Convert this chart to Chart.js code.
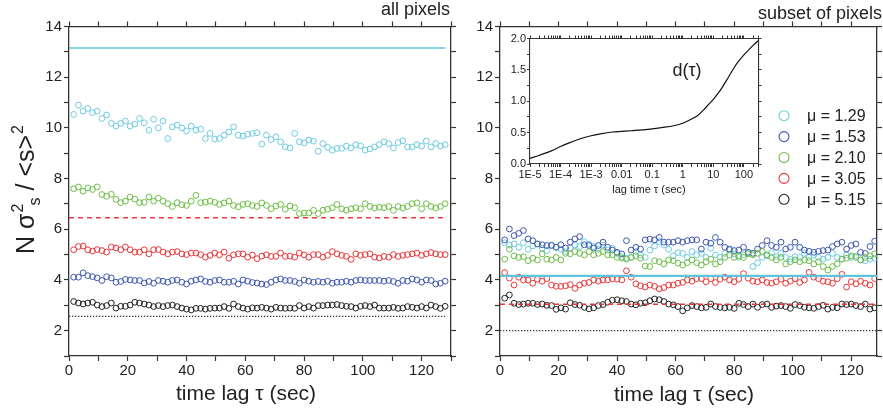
<!DOCTYPE html>
<html>
<head>
<meta charset="utf-8">
<script src="https://cdn.jsdelivr.net/npm/chart.js@4.4.0/dist/chart.umd.min.js"></script>
<style>
  html, body { margin: 0; padding: 0; background: #fff; }
  #wrap { position: relative; width: 883px; height: 412px; overflow: hidden; background: #fff; }
  canvas { position: absolute; }
</style>
</head>
<body>
<div id="wrap">
  <canvas id="leftChart" width="460" height="412" style="left:0;top:0"></canvas>
  <canvas id="rightChart" width="423" height="412" style="left:460px;top:0"></canvas>
  <canvas id="insetChart" width="275" height="180" style="left:490px;top:30px"></canvas>
</div>
<script>
// time lag tau (sec) of every measured point
const lags = [1.6, 3.2, 4.8, 6.4, 8, 9.6, 11.2, 12.8, 14.4, 16,
  17.6, 19.2, 20.8, 22.4, 24, 25.6, 27.2, 28.8, 30.4, 32,
  33.6, 35.2, 36.8, 38.4, 40, 41.6, 43.2, 44.8, 46.4, 48,
  49.6, 51.2, 52.8, 54.4, 56, 57.6, 59.2, 60.8, 62.4, 64,
  65.6, 67.2, 68.8, 70.4, 72, 73.6, 75.2, 76.8, 78.4, 80,
  81.6, 83.2, 84.8, 86.4, 88, 89.6, 91.2, 92.8, 94.4, 96,
  97.6, 99.2, 100.8, 102.4, 104, 105.6, 107.2, 108.8, 110.4, 112,
  113.6, 115.2, 116.8, 118.4, 120, 121.6, 123.2, 124.8, 126.4, 128];

const muLabels = ['\u03bc = 1.29', '\u03bc = 1.53', '\u03bc = 2.10', '\u03bc = 3.05', '\u03bc = 5.15'];
const muColors = ['#6ccbe0', '#3e56b0', '#6cbd45', '#e8383a', '#222222'];

// left panel: all pixels
const allMu129 = [10.53, 10.90, 10.66, 10.77, 10.60, 10.66, 10.37, 10.51, 10.18, 10.07,
  10.18, 10.27, 10.07, 10.15, 10.37, 10.20, 9.91, 10.34, 10.00, 10.27,
  9.58, 10.04, 10.11, 10.00, 9.88, 10.07, 9.91, 9.95, 9.58, 9.78,
  9.56, 9.58, 9.71, 9.84, 10.04, 9.71, 9.68, 9.75, 9.78, 9.81,
  9.36, 9.71, 9.54, 9.65, 9.45, 9.25, 9.21, 9.78, 9.45, 9.41,
  9.52, 9.48, 9.08, 9.38, 9.23, 9.12, 9.19, 9.19, 9.28, 9.21,
  9.34, 9.29, 9.12, 9.17, 9.25, 9.34, 9.45, 9.38, 9.21, 9.42,
  9.49, 9.25, 9.25, 9.34, 9.28, 9.48, 9.25, 9.38, 9.28, 9.34];
const allMu153 = [4.11, 4.11, 4.28, 4.17, 4.13, 4.08, 3.98, 4.13, 4.08, 3.91,
  3.94, 4.02, 4.00, 3.98, 3.98, 3.88, 3.94, 3.87, 3.98, 3.95,
  3.91, 3.98, 4.00, 3.91, 3.84, 3.95, 4.00, 4.04, 3.94, 3.91,
  3.98, 4.00, 3.91, 3.91, 3.95, 3.84, 4.00, 3.95, 3.90, 3.88,
  3.84, 3.82, 3.91, 4.00, 4.04, 3.98, 3.98, 3.94, 3.87, 4.00,
  3.95, 3.91, 3.94, 3.91, 3.95, 3.87, 3.91, 3.91, 3.95, 3.91,
  3.98, 4.00, 3.98, 3.98, 3.98, 3.98, 3.95, 3.98, 3.94, 3.87,
  3.98, 3.95, 4.04, 4.00, 3.91, 4.00, 3.98, 3.84, 3.87, 3.95];
const allMu210 = [7.60, 7.67, 7.50, 7.63, 7.57, 7.67, 7.37, 7.30, 7.38, 7.18,
  7.05, 7.11, 7.27, 7.19, 7.05, 7.06, 7.27, 7.11, 7.23, 7.11,
  7.01, 6.90, 7.05, 6.97, 6.94, 7.11, 7.34, 7.05, 7.07, 7.11,
  7.06, 6.98, 7.04, 7.11, 6.94, 6.89, 6.98, 7.01, 6.94, 6.90,
  7.04, 6.94, 6.81, 6.92, 6.98, 6.79, 6.92, 6.85, 6.62, 6.64,
  6.64, 6.75, 6.62, 6.75, 6.79, 6.85, 6.98, 6.81, 6.75, 6.81,
  6.85, 6.81, 7.01, 6.90, 6.84, 6.87, 6.85, 6.90, 6.75, 6.90,
  6.84, 6.90, 7.01, 7.04, 6.81, 7.01, 6.90, 6.84, 6.90, 7.01];
const allMu305 = [5.19, 5.32, 5.34, 5.19, 5.14, 5.20, 5.16, 5.10, 5.30, 5.26,
  5.19, 5.30, 5.19, 5.10, 5.10, 5.19, 5.03, 5.19, 5.20, 5.10,
  5.03, 5.10, 5.12, 5.03, 5.00, 5.06, 5.06, 5.00, 4.90, 4.97,
  5.06, 4.99, 5.10, 4.86, 4.99, 5.03, 5.03, 4.90, 4.98, 4.84,
  4.94, 4.99, 4.93, 4.93, 5.06, 4.93, 4.94, 4.90, 5.06, 4.99,
  4.90, 5.00, 5.00, 4.90, 4.97, 5.12, 5.03, 4.97, 4.93, 4.81,
  5.03, 4.97, 5.00, 5.03, 4.90, 4.87, 4.93, 4.90, 5.00, 4.93,
  4.97, 5.00, 5.03, 5.06, 4.97, 5.03, 5.08, 5.03, 5.00, 5.00];
const allMu515 = [3.15, 3.09, 3.05, 3.09, 3.12, 3.01, 2.95, 2.99, 3.09, 2.89,
  2.96, 2.96, 3.01, 3.12, 3.09, 3.05, 3.01, 2.95, 2.99, 2.95,
  2.99, 3.01, 2.95, 2.89, 2.85, 2.82, 2.88, 2.88, 2.85, 2.88,
  2.89, 2.89, 2.95, 2.88, 3.05, 2.95, 2.89, 2.85, 2.90, 2.89,
  2.92, 2.89, 2.85, 2.92, 2.89, 2.88, 2.89, 2.88, 2.99, 2.89,
  2.95, 2.89, 2.99, 2.99, 3.01, 3.01, 3.03, 2.99, 2.96, 2.95,
  2.89, 2.96, 2.99, 2.95, 3.01, 2.89, 2.89, 2.89, 2.92, 2.88,
  2.89, 2.95, 2.92, 2.89, 2.95, 2.89, 3.01, 2.95, 2.88, 2.96];
const allLevels = [13.15, 6.45, 2.56];   // solid cyan, dashed red, dotted black
const allLevelSpan = [0, 128];

// right panel: subset of pixels
const subMu129 = [5.47, 5.38, 5.42, 5.29, 5.47, 5.21, 5.34, 5.42, 5.25, 5.16,
  5.38, 5.29, 5.21, 5.12, 5.25, 5.38, 5.32, 5.51, 5.42, 5.32,
  5.21, 5.38, 5.18, 5.25, 5.05, 4.92, 4.86, 4.89, 5.12, 4.99,
  4.89, 5.18, 5.34, 5.51, 5.38, 5.21, 4.95, 5.08, 5.05, 4.89,
  5.12, 4.99, 5.05, 4.89, 5.25, 4.99, 4.89, 5.05, 5.18, 5.03,
  4.89, 4.99, 5.08, 4.53, 4.68, 4.89, 4.95, 5.08, 4.92, 5.05,
  4.89, 4.82, 4.92, 4.89, 5.05, 4.89, 4.99, 4.89, 4.82, 4.89,
  5.05, 4.89, 4.82, 4.99, 4.89, 4.95, 4.79, 4.76, 4.82, 4.86];
const subMu153 = [5.58, 6.01, 5.75, 5.84, 5.95, 5.62, 5.55, 5.42, 5.39, 5.36,
  5.36, 5.29, 5.39, 5.26, 5.49, 5.62, 5.71, 5.39, 5.36, 5.26,
  5.36, 5.49, 5.29, 5.18, 5.09, 5.03, 5.55, 5.18, 5.29, 5.22,
  5.58, 5.61, 5.58, 5.68, 5.49, 5.49, 5.49, 5.55, 5.49, 5.55,
  5.58, 5.58, 5.22, 5.49, 5.45, 5.68, 5.49, 5.29, 5.22, 5.16,
  5.18, 5.29, 5.09, 5.05, 5.22, 5.36, 5.55, 5.36, 5.29, 5.49,
  5.22, 5.29, 5.49, 5.29, 5.18, 5.13, 5.09, 5.13, 5.16, 5.18,
  5.32, 5.42, 5.49, 5.22, 5.36, 5.42, 5.09, 5.05, 5.32, 5.53];
const subMu210 = [4.82, 5.21, 4.95, 4.89, 4.92, 4.76, 4.86, 4.79, 5.03, 4.82,
  4.79, 4.89, 4.79, 5.05, 5.03, 5.12, 5.05, 4.99, 5.12, 4.99,
  5.05, 5.12, 4.99, 4.99, 4.89, 4.86, 4.82, 4.89, 4.95, 4.86,
  4.55, 4.53, 4.76, 4.72, 4.63, 4.79, 4.76, 4.66, 4.59, 4.68,
  4.79, 4.68, 4.59, 4.72, 4.82, 4.63, 4.72, 4.89, 4.99, 4.89,
  4.95, 4.89, 5.03, 4.99, 5.05, 5.12, 4.99, 4.89, 4.79, 4.89,
  4.63, 4.72, 4.79, 4.72, 4.79, 4.76, 4.63, 4.72, 4.53, 4.39,
  4.53, 4.63, 4.82, 4.86, 4.95, 4.89, 4.79, 4.89, 4.95, 5.03];
const subMu305 = [4.29, 4.07, 3.80, 4.11, 4.00, 4.00, 3.87, 4.03, 3.95, 4.05,
  3.80, 3.75, 3.75, 3.77, 3.82, 3.67, 3.80, 3.87, 3.90, 4.00,
  3.95, 4.00, 4.00, 4.05, 4.03, 4.00, 4.36, 4.11, 3.85, 3.77,
  3.72, 3.80, 3.75, 3.65, 3.70, 3.80, 3.80, 3.87, 3.90, 4.00,
  3.95, 4.05, 4.05, 3.93, 4.05, 3.90, 4.03, 4.11, 4.00, 3.93,
  4.03, 4.25, 4.07, 3.95, 3.93, 4.00, 3.90, 3.87, 3.93, 4.03,
  3.87, 3.95, 4.05, 3.90, 4.00, 4.30, 4.11, 4.05, 3.95, 3.93,
  3.87, 4.05, 4.22, 3.72, 3.93, 3.85, 3.95, 3.87, 3.80, 4.05];
const subMu515 = [3.28, 3.41, 3.08, 3.03, 3.05, 3.08, 3.08, 3.03, 3.05, 3.00,
  2.99, 2.84, 2.90, 2.85, 3.10, 3.03, 3.00, 2.92, 2.86, 2.90,
  2.99, 3.03, 3.12, 3.20, 3.22, 3.18, 3.15, 3.05, 3.02, 3.08,
  3.10, 3.18, 3.25, 3.22, 3.15, 3.05, 3.02, 2.95, 2.78, 2.90,
  2.99, 2.95, 2.90, 2.92, 3.05, 2.95, 2.92, 2.90, 2.92, 2.88,
  3.08, 3.03, 2.95, 3.05, 2.92, 3.03, 3.05, 2.92, 2.97, 2.99,
  2.95, 2.88, 3.03, 2.99, 2.92, 2.90, 2.88, 2.95, 3.00, 2.85,
  2.92, 2.90, 3.05, 3.03, 3.05, 2.99, 2.95, 3.05, 2.85, 2.90];
const subLevels = [4.16, 3.04, 2.0];
const subLevelSpan = [0, 128.8];

// inset: d(tau) vs lag time
const insetTau = [1e-5, 2e-5, 5e-5, 1e-4, 2e-4, 5e-4, 1e-3, 2e-3, 5e-3, 0.01,
  0.02, 0.05, 0.1, 0.2, 0.5, 1, 2, 3, 5, 7,
  10, 15, 20, 30, 50, 70, 100, 150, 200, 300];
const insetD = [0.09, 0.14, 0.21, 0.28, 0.34, 0.41, 0.45, 0.48, 0.51, 0.52,
  0.53, 0.545, 0.56, 0.58, 0.61, 0.65, 0.72, 0.77, 0.87, 0.95,
  1.03, 1.14, 1.23, 1.37, 1.55, 1.65, 1.74, 1.83, 1.89, 1.97];
const insetDecadeLabels = ['1E-5', '1E-4', '1E-3', '0.01', '0.1', '1', '10', '100'];

const FONT = '"Liberation Sans", Arial, Helvetica, sans-serif';
const INK = '#222';
const AXIS = '#333';

function scatterSet(label, values, color) {
  return {
    label: label,
    data: lags.map((x, i) => ({ x: x, y: values[i] })),
    showLine: false,
    pointStyle: 'circle',
    pointRadius: 2.9,
    pointBorderWidth: 1,
    pointBorderColor: color,
    pointBackgroundColor: 'rgba(0,0,0,0)',
    borderColor: color,
    backgroundColor: 'rgba(0,0,0,0)'
  };
}

const levelStyles = [
  { color: '#5ec4dc', width: 1.6, dash: [] },
  { color: '#e8383a', width: 1.5, dash: [5, 4] },
  { color: '#333', width: 1.3, dash: [1.3, 1.7] }
];

function levelSet(level, span, style, width) {
  return {
    label: '',
    data: span.map(x => ({ x: x, y: level })),
    showLine: true,
    borderColor: style.color,
    borderWidth: width || style.width,
    borderDash: style.dash,
    pointRadius: 0,
    fill: false
  };
}

function mainScales(xMax, yWidth) {
  const tickFont = { family: FONT, size: 15 };
  const grid = { drawOnChartArea: false, tickLength: 5, color: AXIS, tickWidth: 1.2 };
  const border = { color: AXIS, width: 1.3 };
  return {
    x: {
      type: 'linear', position: 'bottom', min: 0, max: xMax,
      ticks: { stepSize: 10, includeBounds: false, autoSkip: false, maxRotation: 0, padding: 1,
        color: INK, font: tickFont, callback: v => (v % 20 === 0 ? String(v) : '') },
      grid: grid, border: border,
      afterFit: s => { s.height = 56; }
    },
    x2: {
      type: 'linear', position: 'top', min: 0, max: xMax,
      ticks: { stepSize: 10, includeBounds: false, display: false },
      grid: grid, border: border,
      afterFit: s => { s.height = 0; }
    },
    y: {
      type: 'linear', position: 'left', min: 1, max: 14,
      ticks: { stepSize: 1, autoSkip: false, padding: 2, color: INK, font: tickFont,
        callback: v => (v % 2 === 0 ? String(v) : '') },
      grid: grid, border: border,
      afterFit: s => { s.width = yWidth; }
    },
    y2: {
      type: 'linear', position: 'right', min: 1, max: 14,
      ticks: { stepSize: 1, display: false },
      grid: grid, border: border,
      afterFit: s => { s.width = 0; }
    }
  };
}

function putText(ctx, str, x, y, size, align) {
  ctx.save();
  ctx.font = size + 'px ' + FONT;
  ctx.fillStyle = INK;
  ctx.textAlign = align || 'left';
  ctx.textBaseline = 'alphabetic';
  ctx.fillText(str, x, y);
  ctx.restore();
}

// N sigma^2_s / <s>^2, written bottom to top
function drawYTitle(ctx) {
  ctx.save();
  ctx.translate(34, 254);
  ctx.rotate(-Math.PI / 2);
  ctx.fillStyle = INK;
  ctx.textBaseline = 'alphabetic';
  const big = '25px ' + FONT;
  const small = '16px ' + FONT;
  let x = 0;
  ctx.font = big;
  ctx.fillText('N \u03c3', x, 0);
  x += ctx.measureText('N \u03c3').width + 1;
  ctx.font = small;
  ctx.fillText('2', x, -11);
  const w2 = ctx.measureText('2').width;
  ctx.fillText('s', x + w2 * 0.8, 6);
  x += w2 * 0.8 + ctx.measureText('s').width;
  ctx.font = big;
  ctx.fillText(' / <s>', x, 0);
  x += ctx.measureText(' / <s>').width;
  ctx.font = small;
  ctx.fillText('2', x + 1, -11);
  ctx.restore();
}

const baseOptions = {
  responsive: false,
  maintainAspectRatio: false,
  animation: false,
  devicePixelRatio: 1,
  events: [],
  plugins: { legend: { display: false }, tooltip: { enabled: false } }
};

// left panel
new Chart(document.getElementById('leftChart'), {
  type: 'scatter',
  data: {
    datasets: [
      levelSet(allLevels[0], allLevelSpan, levelStyles[0]),
      levelSet(allLevels[1], allLevelSpan, levelStyles[1]),
      levelSet(allLevels[2], allLevelSpan, levelStyles[2]),
      scatterSet(muLabels[4], allMu515, muColors[4]),
      scatterSet(muLabels[3], allMu305, muColors[3]),
      scatterSet(muLabels[2], allMu210, muColors[2]),
      scatterSet(muLabels[1], allMu153, muColors[1]),
      scatterSet(muLabels[0], allMu129, muColors[0])
    ]
  },
  options: Object.assign({}, baseOptions, {
    layout: { padding: { top: 26.5, right: 9, bottom: 0, left: 0 } },
    scales: mainScales(130, 69)
  }),
  plugins: [{
    id: 'leftDecor',
    afterDraw(chart) {
      const ctx = chart.ctx;
      putText(ctx, 'all pixels', 450, 15, 18, 'right');
      putText(ctx, 'time lag \u03c4 (sec)', 246, 400, 21, 'center');
      drawYTitle(ctx);
    }
  }]
});

// right panel
new Chart(document.getElementById('rightChart'), {
  type: 'scatter',
  data: {
    datasets: [
      levelSet(subLevels[0], subLevelSpan, levelStyles[0], 2.2),
      levelSet(subLevels[1], subLevelSpan, levelStyles[1]),
      levelSet(subLevels[2], subLevelSpan, levelStyles[2]),
      scatterSet(muLabels[4], subMu515, muColors[4]),
      scatterSet(muLabels[3], subMu305, muColors[3]),
      scatterSet(muLabels[2], subMu210, muColors[2]),
      scatterSet(muLabels[1], subMu153, muColors[1]),
      scatterSet(muLabels[0], subMu129, muColors[0])
    ]
  },
  options: Object.assign({}, baseOptions, {
    layout: { padding: { top: 26.5, right: 6, bottom: 0, left: 0 } },
    scales: mainScales(128.8, 40)
  }),
  plugins: [{
    id: 'rightDecor',
    afterDraw(chart) {
      const ctx = chart.ctx;
      putText(ctx, 'subset of pixels', 422, 19, 18, 'right');
      putText(ctx, 'time lag \u03c4 (sec)', 224, 401, 21, 'center');
      // legend
      muLabels.forEach((lab, i) => {
        const y = 115.7 + i * 20.9;
        ctx.save();
        ctx.strokeStyle = muColors[i];
        ctx.lineWidth = 1.1;
        ctx.beginPath();
        ctx.arc(324, y, 5, 0, Math.PI * 2);
        ctx.stroke();
        ctx.restore();
        putText(ctx, lab, 347, y + 5.6, 16, 'left');
      });
    }
  }]
});

// inset
const insetTicks = [];
insetDecadeLabels.forEach((lab, i) => {
  for (let m = 1; m <= 9; m++) {
    const v = m * Math.pow(10, i - 5);
    if (v <= 300) insetTicks.push({ value: v, lab: m === 1 ? lab : '' });
  }
});

const insetGrid = { drawOnChartArea: false, tickLength: 3, color: AXIS, tickWidth: 1 };
const insetBorder = { color: AXIS, width: 1.1 };
const insetFont = { family: FONT, size: 11 };

new Chart(document.getElementById('insetChart'), {
  type: 'scatter',
  data: {
    datasets: [{
      label: 'd(\u03c4)',
      data: insetTau.map((t, i) => ({ x: t, y: insetD[i] })),
      showLine: true,
      borderColor: '#111',
      borderWidth: 1.2,
      pointRadius: 0,
      cubicInterpolationMode: 'monotone',
      fill: false
    }]
  },
  options: Object.assign({}, baseOptions, {
    layout: { padding: { top: 8.5, right: 6.5, bottom: 0, left: 0 } },
    scales: {
      x: {
        type: 'logarithmic', position: 'bottom', min: 1e-5, max: 300,
        afterBuildTicks: s => { s.ticks = insetTicks.map(t => ({ value: t.value, lab: t.lab })); },
        ticks: { autoSkip: false, maxRotation: 0, padding: 1, color: INK, font: insetFont,
          callback: (v, i, ticks) => ticks[i].lab },
        grid: insetGrid, border: insetBorder,
        afterFit: s => { s.height = 46; }
      },
      x2: {
        type: 'logarithmic', position: 'top', min: 1e-5, max: 300,
        afterBuildTicks: s => { s.ticks = insetTicks.map(t => ({ value: t.value })); },
        ticks: { display: false },
        grid: insetGrid, border: insetBorder,
        afterFit: s => { s.height = 0; }
      },
      y: {
        type: 'linear', position: 'left', min: 0, max: 2,
        ticks: { stepSize: 0.25, autoSkip: false, padding: 1, color: INK, font: insetFont,
          callback: v => ((v * 2) % 1 === 0 ? v.toFixed(1) : '') },
        grid: insetGrid, border: insetBorder,
        afterFit: s => { s.width = 40; }
      },
      y2: {
        type: 'linear', position: 'right', min: 0, max: 2,
        ticks: { stepSize: 0.25, display: false },
        grid: insetGrid, border: insetBorder,
        afterFit: s => { s.width = 0; }
      }
    }
  }),
  plugins: [{
    id: 'insetDecor',
    afterDraw(chart) {
      const ctx = chart.ctx;
      putText(ctx, 'lag time \u03c4 (sec)', 159, 163, 11, 'center');
      putText(ctx, 'd(\u03c4)', 197, 46, 18, 'center');
    }
  }]
});
</script>
</body>
</html>
